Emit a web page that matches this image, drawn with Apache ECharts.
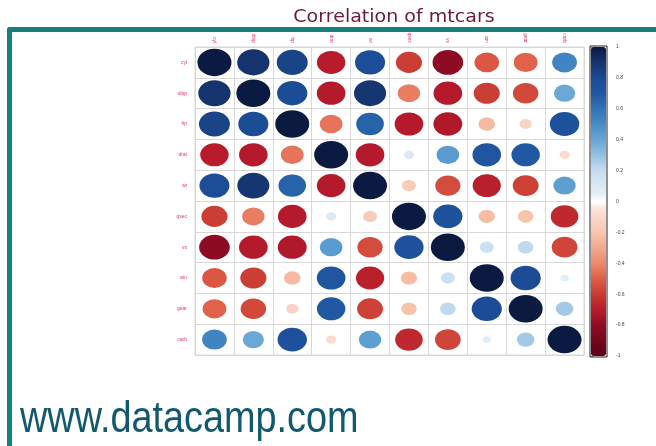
<!DOCTYPE html>
<html>
<head>
<meta charset="utf-8">
<script src="https://cdn.jsdelivr.net/npm/echarts@6/dist/echarts.min.js"></script>
<style>html,body{margin:0;padding:0;background:#fff}#c{width:656px;height:446px}</style>
</head>
<body>
<div id="c"></div>
<script>
var variables = ['cyl','disp','hp','drat','wt','qsec','vs','am','gear','carb'];
var cyl  = [ 1.00, 0.90, 0.83,-0.70, 0.78,-0.59,-0.81,-0.52,-0.49, 0.53];
var disp = [ 0.90, 1.00, 0.79,-0.71, 0.89,-0.43,-0.71,-0.59,-0.56, 0.39];
var hp   = [ 0.83, 0.79, 1.00,-0.45, 0.66,-0.71,-0.72,-0.24,-0.13, 0.75];
var drat = [-0.70,-0.71,-0.45, 1.00,-0.71, 0.09, 0.44, 0.71, 0.70,-0.09];
var wt   = [ 0.78, 0.89, 0.66,-0.71, 1.00,-0.17,-0.55,-0.69,-0.58, 0.43];
var qsec = [-0.59,-0.43,-0.71, 0.09,-0.17, 1.00, 0.74,-0.23,-0.21,-0.66];
var vs   = [-0.81,-0.71,-0.72, 0.44,-0.55, 0.74, 1.00, 0.17, 0.21,-0.57];
var am   = [-0.52,-0.59,-0.24, 0.71,-0.69,-0.23, 0.17, 1.00, 0.79, 0.06];
var gear = [-0.49,-0.56,-0.13, 0.70,-0.58,-0.21, 0.21, 0.79, 1.00, 0.27];
var carb = [ 0.53, 0.39, 0.75,-0.09, 0.43,-0.66,-0.57, 0.06, 0.27, 1.00];
var colorbarTicks = [1,0.8,0.6,0.4,0.2,0,-0.2,-0.4,-0.6,-0.8,-1];

// colour scale stops (value, colour)
var stopValues = [-1, -0.8, -0.7, -0.6, -0.5, -0.4, -0.2, -0.05, 0, 0.05, 0.2, 0.4, 0.55, 0.7, 0.8, 0.9, 1];
var stopColors = ['#5c0018','#8f0c24','#b81c2c','#c93a32','#df5e48','#ec8a6c','#f7c6ae','#fce2d8','#ffffff','#e4eef6','#c6dcee','#65a6d6','#3a80be','#2058a2','#1c4a93','#15346e','#0a1a40'];

function hex(c){ return [parseInt(c.substr(1,2),16), parseInt(c.substr(3,2),16), parseInt(c.substr(5,2),16)]; }
function colorAt(v){
  for (var k = 0; k < stopValues.length - 1; k++) {
    if (v <= stopValues[k+1]) {
      var t = (v - stopValues[k]) / (stopValues[k+1] - stopValues[k]);
      var a = hex(stopColors[k]), b = hex(stopColors[k+1]);
      return 'rgb(' + [0,1,2].map(function(i){ return Math.round(a[i] + (b[i]-a[i])*t); }).join(',') + ')';
    }
  }
  return stopColors[stopColors.length-1];
}
var sampled = [];
for (var s = 0; s <= 80; s++) sampled.push(colorAt(-1 + s/40));

var rows = [cyl, disp, hp, drat, wt, qsec, vs, am, gear, carb];
var data = [];
rows.forEach(function(r, i){ r.forEach(function(v, j){ data.push([variables[j], variables[i], v]); }); });

var chart = echarts.init(document.getElementById('c'), null, {renderer:'canvas'});
var labelRed = '#e23a62';
chart.setOption({
  animation:false,
  backgroundColor:'#fff',
  grid:[
    {left:195, top:47, width:389, height:308, show:true, borderColor:'#d8d8d8', borderWidth:1},
    {left:591, top:47, width:15, height:309, show:false}
  ],
  xAxis:[
    {type:'category', gridIndex:0, data:variables, position:'top', boundaryGap:true,
      axisLine:{show:false}, axisTick:{show:false},
      splitLine:{show:true, lineStyle:{color:'#d8d8d8', width:1}},
      axisLabel:{rotate:90, fontSize:5, color:labelRed, margin:4, interval:0}},
    {type:'value', gridIndex:1, show:false, min:0, max:1}
  ],
  yAxis:[
    {type:'category', gridIndex:0, data:variables, inverse:true, boundaryGap:true,
      axisLine:{show:false}, axisTick:{show:false},
      splitLine:{show:true, lineStyle:{color:'#d8d8d8', width:1}},
      axisLabel:{fontSize:5, color:labelRed, margin:8, interval:0}},
    {type:'value', gridIndex:1, min:-1, max:1, interval:0.2, position:'right',
      axisLine:{show:false}, axisTick:{show:true, length:2, lineStyle:{color:'#888'}},
      splitLine:{show:false},
      axisLabel:{fontSize:5, color:'#444', margin:10,
        formatter:function(v){ var r = Math.round(v*10)/10; return colorbarTicks.indexOf(r) >= 0 ? String(r) : ''; }}}
  ],
  visualMap:{type:'continuous', min:-1, max:1, seriesIndex:0, left:591, top:47,
    itemWidth:15, itemHeight:309, calculable:false, showLabel:false, text:['',''], padding:0,
    inRange:{color:sampled}},
  series:[{
    type:'scatter', xAxisIndex:0, yAxisIndex:0, data:data, symbol:'circle',
    symbolSize:function(d){ var s = Math.sqrt(Math.abs(d[2])); return [34*s, 27.5*s]; },
    itemStyle:{opacity:1}
  }],
  graphic:[
    {type:'text', x:394, y:18, scaleX:1.12, style:{text:'Correlation of mtcars', fontFamily:'DejaVu Sans', fontSize:17, fill:'#6a1b3c', textAlign:'center', textVerticalAlign:'middle'}},
    {type:'rect', shape:{x:7, y:27, width:649, height:5, r:[3,0,0,0]}, style:{fill:'#16807a'}, z:10},
    {type:'rect', shape:{x:7, y:27, width:5, height:419, r:[3,0,0,0]}, style:{fill:'#16807a'}, z:10},
    {type:'rect', shape:{x:590, y:46, width:17, height:311}, style:{fill:'none', stroke:'#222', lineWidth:1}, z:10},
    {type:'text', x:20, y:442, scaleX:0.86, style:{text:'www.datacamp.com', fontFamily:'Liberation Sans', fontSize:44, fill:'#12596d', textVerticalAlign:'bottom'}}
  ]
});
</script>
</body>
</html>
